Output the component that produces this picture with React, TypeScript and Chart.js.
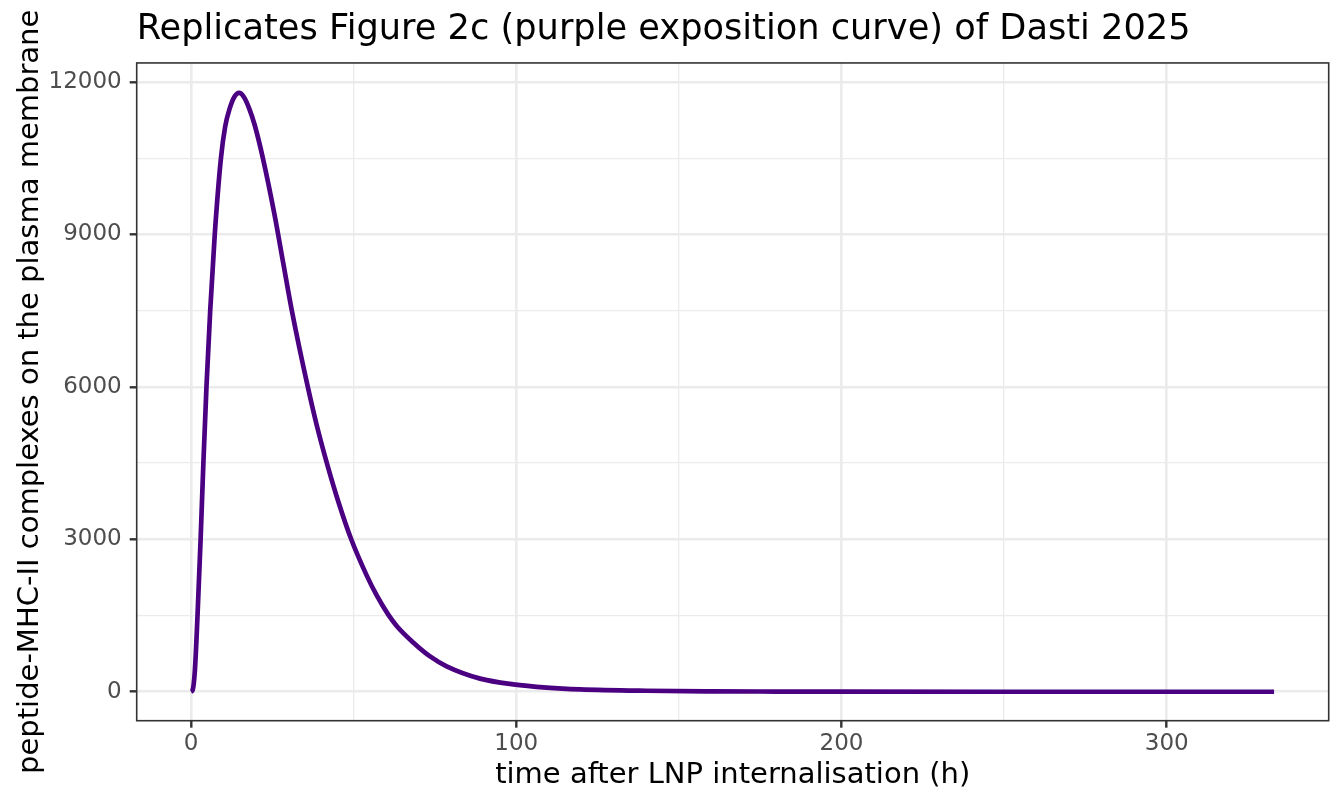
import { useEffect, useRef } from "react";
import { Chart, registerables, type Plugin } from "chart.js";

Chart.register(...registerables);

// hours after internalisation
const timeH = [
  0, 0.5, 1.2, 2.0, 2.95, 3.8, 4.75, 5.9, 7.3, 9.2, 10.5, 11.9, 13.4, 14.8,
  16.3, 17.9, 19.6, 22.1, 25.7, 28.4, 31.0, 35.9, 38.6, 41.9, 45.3, 49.2,
  54.0, 57.1, 60.7, 63.3, 68.4, 73.5, 78.6, 88.9, 99.1, 109.4, 119.6, 140,
  160, 180, 200, 250, 300, 333,
];
// peptide-MHC-II complexes on the membrane
const complexes = [
  0, 30, 430, 1500, 3000, 4500, 6000, 7500, 9000, 10500, 11120, 11480, 11715,
  11785, 11700, 11476, 11148, 10500, 9380, 8420, 7500, 6000, 5260, 4470, 3740,
  3010, 2290, 1895, 1512, 1290, 965, 695, 500, 258, 145, 82, 47, 19, 8, 3.5,
  1.5, 0, 0, 0,
];

const xMajor = [0, 100, 200, 300];
const xMinor = [50, 150, 250];
const yMajor = [0, 3000, 6000, 9000, 12000];
const yMinor = [1500, 4500, 7500, 10500];

const FONT = "DejaVu Sans";

// ggplot theme_bw style frame around the panel
const panelBorder: Plugin<"line"> = {
  id: "panelBorder",
  afterDatasetsDraw(chart) {
    const { ctx, chartArea: a } = chart;
    ctx.save();
    ctx.strokeStyle = "#333333";
    ctx.lineWidth = 1.6;
    ctx.strokeRect(a.left, a.top, a.right - a.left, a.bottom - a.top);
    ctx.restore();
  },
};

export default function App() {
  const canvasRef = useRef<HTMLCanvasElement>(null);

  useEffect(() => {
    if (!canvasRef.current) return;
    const isMajorX = (v: number) => xMajor.includes(v);
    const isMajorY = (v: number) => yMajor.includes(v);

    const chart = new Chart(canvasRef.current, {
      type: "line",
      data: {
        datasets: [
          {
            data: timeH.map((t, i) => ({ x: t, y: complexes[i] })),
            borderColor: "#4B0082",
            borderWidth: 4.7,
            pointRadius: 0,
            cubicInterpolationMode: "monotone",
            fill: false,
          },
        ],
      },
      options: {
        animation: false,
        responsive: true,
        maintainAspectRatio: false,
        layout: { padding: { left: 0, right: 15.3, top: 0, bottom: 0 } },
        plugins: {
          legend: { display: false },
          tooltip: { enabled: false },
          title: {
            display: true,
            text: "Replicates Figure 2c (purple exposition curve) of Dasti 2025",
            align: "start",
            fullSize: false,
            color: "#000000",
            font: { family: FONT, size: 35.2, weight: "normal" },
            padding: { top: 8.6, bottom: 12.1 },
          },
        },
        scales: {
          x: {
            type: "linear",
            min: -16.7,
            max: 349.8,
            afterBuildTicks: (s) => {
              s.ticks = [...xMajor, ...xMinor]
                .sort((a, b) => a - b)
                .map((v) => ({ value: v }));
            },
            afterFit: (s) => {
              s.height = 85.3;
            },
            border: { display: false },
            grid: {
              color: "#EBEBEB",
              lineWidth: (c) => (isMajorX(c.tick.value) ? 2.6 : 1.3),
              tickLength: 7,
              tickColor: (c) =>
                isMajorX(c.tick.value) ? "#333333" : "rgba(0,0,0,0)",
              tickWidth: 2.4,
            },
            ticks: {
              autoSkip: false,
              maxRotation: 0,
              padding: 3,
              color: "#4D4D4D",
              font: { family: FONT, size: 23 },
              callback: (v) => (isMajorX(Number(v)) ? String(v) : ""),
            },
            title: {
              display: true,
              text: "time after LNP internalisation (h)",
              color: "#000000",
              font: { family: FONT, size: 29 },
              padding: { top: 0, bottom: 13.6 },
            },
          },
          y: {
            type: "linear",
            min: -570,
            max: 12374,
            afterBuildTicks: (s) => {
              s.ticks = [...yMajor, ...yMinor]
                .sort((a, b) => a - b)
                .map((v) => ({ value: v }));
            },
            afterFit: (s) => {
              s.width = 136.7;
            },
            border: { display: false },
            grid: {
              color: "#EBEBEB",
              lineWidth: (c) => (isMajorY(c.tick.value) ? 2.6 : 1.3),
              tickLength: 7,
              tickColor: (c) =>
                isMajorY(c.tick.value) ? "#333333" : "rgba(0,0,0,0)",
              tickWidth: 2.4,
            },
            ticks: {
              autoSkip: false,
              padding: 8,
              color: "#4D4D4D",
              font: { family: FONT, size: 23 },
              callback: (v) => (isMajorY(Number(v)) ? String(v) : ""),
            },
            title: {
              display: true,
              text: "peptide-MHC-II complexes on the plasma membrane",
              color: "#000000",
              font: { family: FONT, size: 29 },
              padding: { top: 12.6, bottom: 0 },
            },
          },
        },
      },
      plugins: [panelBorder],
    });

    return () => {
      chart.destroy();
    };
  }, []);

  return (
    <div
      style={{
        position: "absolute",
        left: 0,
        top: 0,
        width: 1344,
        height: 806,
        background: "#ffffff",
      }}
    >
      <canvas ref={canvasRef} />
    </div>
  );
}
